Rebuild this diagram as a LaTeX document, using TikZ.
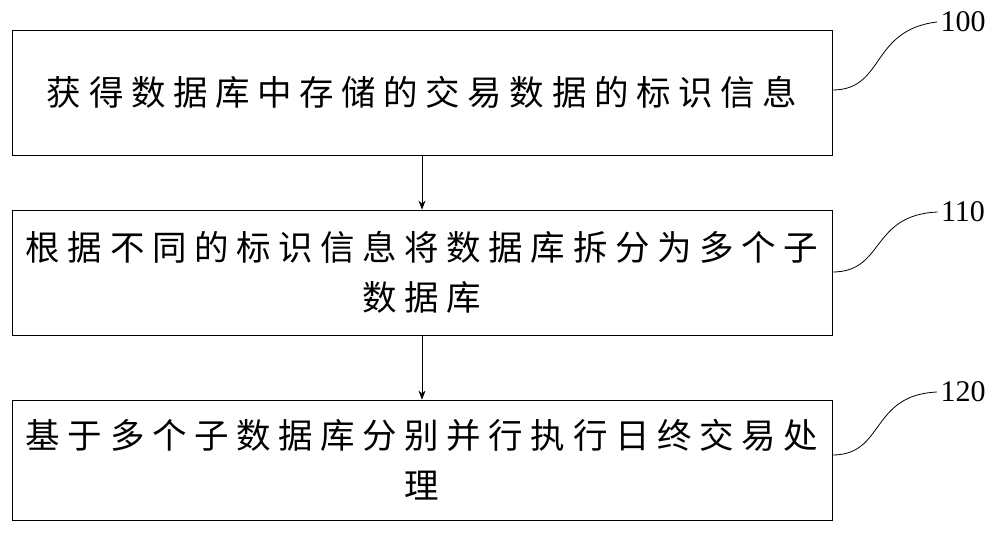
\documentclass[tikz,border=0pt]{standalone}
\usepackage{fontspec}
\usetikzlibrary{arrows.meta}
\newfontfamily\cjk[LetterSpace=22]{Noto Sans CJK SC}
\setmainfont{Liberation Serif}
\begin{document}
\begin{tikzpicture}[x=1pt,y=-1pt,
 stepbox/.style={draw,line width=0.8pt,minimum width=820pt,inner sep=0pt,align=center,text width=810pt,font=\cjk\fontsize{34.5}{50}\selectfont},
 lab/.style={font=\fontsize{30}{32}\selectfont},
 arr/.style={-{Stealth[length=9pt,width=7pt]},line width=0.8pt}]
\useasboundingbox (0,0) rectangle (1000,547);
\node[stepbox,minimum height=125pt] (b1) at (422,92.5) {获得数据库中存储的交易数据的标识信息};
\node[stepbox,minimum height=125pt] (b2) at (422,272.5) {根据不同的标识信息将数据库拆分为多个子\\数据库};
\node[stepbox,minimum height=120pt] (b3) at (422,460) {基于多个子数据库分别并行执行日终交易处\\理};
\draw[arr] (b1) -- (b2);
\draw[arr] (b2) -- (b3);
\node[lab] (l1) at (963,22) {100};
\node[lab] (l2) at (963,212) {110};
\node[lab] (l3) at (963,392) {120};
\coordinate (s1) at (b1.east |- 0,90);
\coordinate (s2) at (b2.east |- 0,272);
\coordinate (s3) at (b3.east |- 0,455);
\draw[line width=0.8pt] (s1) .. controls (885,90) and (870,30) .. (l1.west);
\draw[line width=0.8pt] (s2) .. controls (885,272) and (870,215) .. (l2.west);
\draw[line width=0.8pt] (s3) .. controls (885,455) and (870,395) .. (l3.west);
\end{tikzpicture}
\end{document}
